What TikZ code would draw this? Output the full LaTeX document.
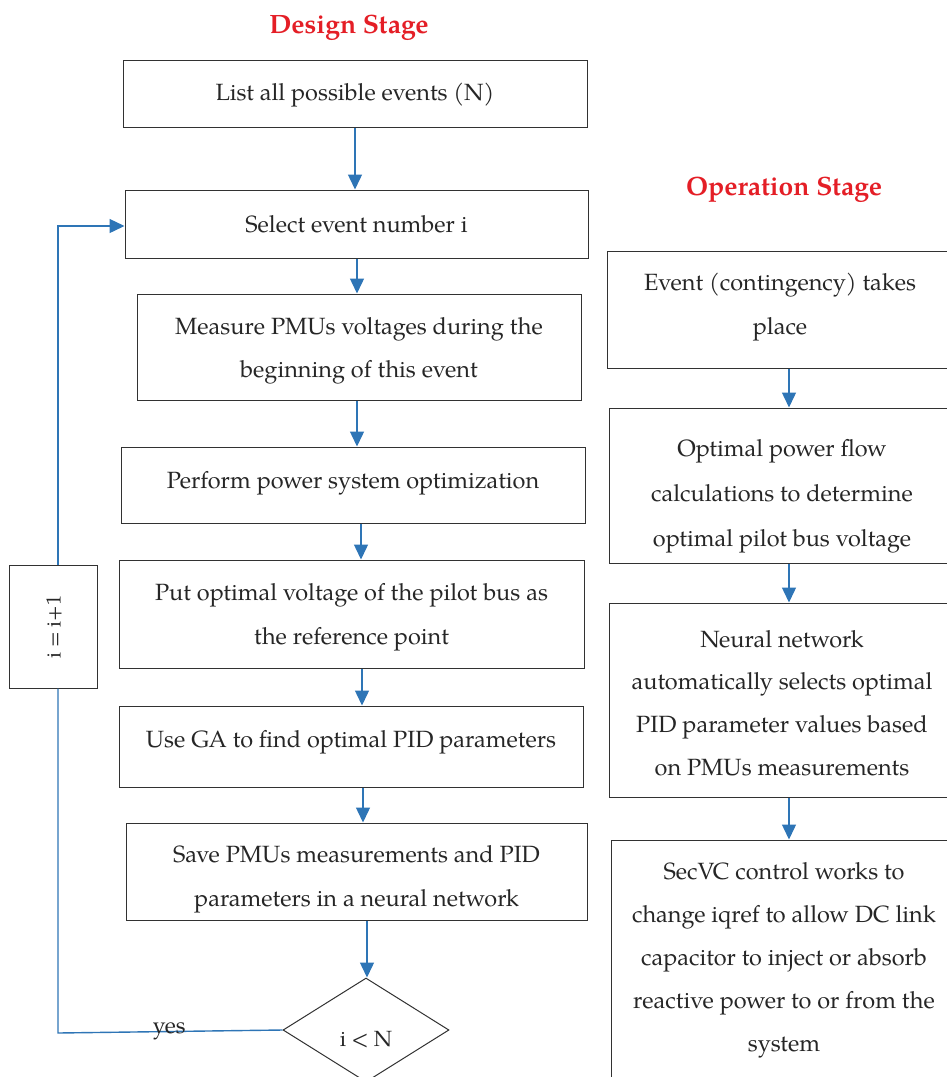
\documentclass[tikz,border=0pt]{standalone}
\usepackage{fontspec}
\setmainfont{texgyrepagella}[Extension=.otf, UprightFont=*-regular, BoldFont=*-bold, ItalicFont=*-italic, BoldItalicFont=*-bolditalic]
\usetikzlibrary{arrows.meta,shapes.geometric}
\definecolor{flowblue}{RGB}{46,117,182}
\definecolor{titlered}{RGB}{228,30,38}
\definecolor{boxgray}{RGB}{50,50,50}
\tikzset{
  box/.style={draw=boxgray, line width=1pt, rectangle, inner sep=0pt},
  txt/.style={align=center, inner sep=0pt, font=\fontsize{23.5}{43.5}\selectfont, text=black!85},
  flow/.style={draw=flowblue, line width=1.4pt, -{Triangle[length=15pt,width=14pt]}},
  loopline/.style={draw=flowblue, line width=1.4pt},
  stagetitle/.style={font=\fontsize{26.5}{30}\selectfont\bfseries, text=titlered},
}
\begin{document}
\begin{tikzpicture}[x=1pt,y=-1pt]
\useasboundingbox (0,0) rectangle (947,1077);
\clip (0,0) rectangle (947,1077);
% titles
\node[stagetitle] (t1) at (349,28) {Design Stage};
\node[stagetitle] (t2) at (784,190) {Operation Stage};
% design column
\node[box, minimum width=464pt, minimum height=67pt] (list) at (355,93.5) {};
\node[txt] (listt) at (355,95) {List all possible events (N)};
\node[box, minimum width=463pt, minimum height=68pt] (sel) at (356.5,224) {};
\node[txt] (selt) at (356.5,224) {Select event number i};
\node[box, minimum width=444pt, minimum height=106pt] (meas) at (359,347) {};
\node[txt] (meast) at (359,351) {Measure PMUs voltages during the\\beginning of this event};
\node[box, minimum width=464pt, minimum height=76pt] (perf) at (353,485) {};
\node[txt] (perft) at (353,483) {Perform power system optimization};
\node[box, minimum width=465pt, minimum height=108pt] (put) at (351.5,614) {};
\node[txt] (putt) at (351.5,617) {Put optimal voltage of the pilot bus as\\the reference point};
\node[box, minimum width=464pt, minimum height=81pt] (ga) at (351,746.5) {};
\node[txt] (gat) at (351,742) {Use GA to find optimal PID parameters};
\node[box, minimum width=461pt, minimum height=97pt] (save) at (356.5,871.5) {};
\node[txt] (savet) at (356.5,879.5) {Save PMUs measurements and PID\\parameters in a neural network};
\node[box, diamond, aspect=1.6, minimum width=166pt, minimum height=104pt] (dia) at (366,1030) {};
\node[txt, font=\fontsize{22}{26}\selectfont] (diat) at (366,1040) {i < N};
\node[box, minimum width=88pt, minimum height=123pt] (inc) at (53,626.5) {};
\node[txt, font=\fontsize{20.5}{24}\selectfont, rotate=90] (inct) at (54,627) {i = i+1};
% operation column
\node[box, minimum width=346pt, minimum height=117pt] (ev) at (780,309.5) {};
\node[txt] (evt) at (780,307) {Event (contingency) takes\\place};
\node[box, minimum width=344pt, minimum height=155pt] (opf) at (781,485.5) {};
\node[txt, font=\fontsize{23.5}{45}\selectfont] (opft) at (782,496) {Optimal power flow\\calculations to determine\\optimal pilot bus voltage};
\node[box, minimum width=344pt, minimum height=194pt] (nn) at (781,700) {};
\node[txt, font=\fontsize{23.5}{42.7}\selectfont] (nnt) at (782,703) {Neural network\\automatically selects optimal\\PID parameter values based\\on PMUs measurements};
\node[box, minimum width=342pt, minimum height=244pt] (sec) at (782,962) {};
\node[txt, font=\fontsize{23.5}{43}\selectfont] (sect) at (784,960) {SecVC control works to\\change iqref to allow DC link\\capacitor to inject or absorb\\reactive power to or from the\\system};
% design arrows
\draw[flow] (list.south -| 355,0) -- (sel.north -| 355,0);
\draw[flow] (sel.south -| 357,0) -- (meas.north -| 357,0);
\draw[flow] (meas.south -| 357,0) -- (perf.north -| 357,0);
\draw[flow] (perf.south -| 361,0) -- (put.north -| 361,0);
\draw[flow] (put.south -| 362,0) -- (ga.north -| 362,0);
\draw[flow] (ga.south -| 363,0) -- (save.north -| 363,0);
\draw[flow] (save.south -| 367,0) -- (dia.north -| 367,0);
% loop
\coordinate (yesend) at (58,1033);
\draw[loopline] (dia.west) -- node[pos=0.505, font=\fontsize{23}{26}\selectfont, text=black!85, inner sep=0pt] (yes) {yes} (yesend) -- (inc.south -| yesend);
\draw[flow] (inc.north -| yesend) -- (58,226) -- (sel.west |- 0,226);
% operation arrows
\draw[flow] (ev.south -| 789,0) -- (opf.north -| 789,0);
\draw[flow] (opf.south -| 789,0) -- (nn.north -| 789,0);
\draw[flow] (nn.south -| 789,0) -- (sec.north -| 789,0);
\end{tikzpicture}
\end{document}
